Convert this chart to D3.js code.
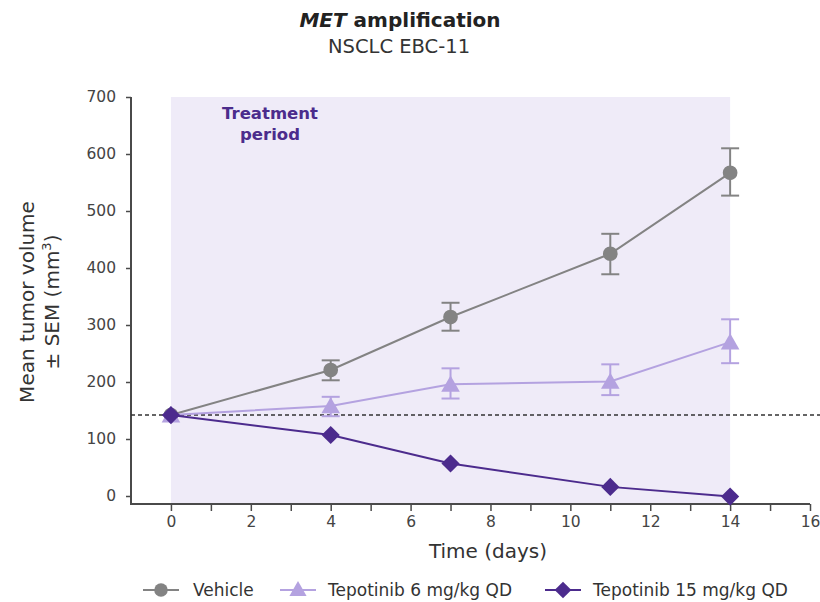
<!DOCTYPE html>
<html lang="en">
<head>
<meta charset="UTF-8">
<script src="https://d3js.org/d3.v7.min.js"></script>
<style>
  body { margin: 0; background: #fff; }
  text { font-family: "DejaVu Sans", Verdana, sans-serif; }
</style>
</head>
<body>
<div id="container"></div>
<script>
// data
var days = [0, 4, 7, 11, 14];
var vehicle = [142, 221, 314, 425, 567];
var vehicleLo = [142, 203, 290, 389, 527];
var vehicleHi = [142, 238, 339, 460, 610];
var tep6 = [142, 158, 196, 201, 270];
var tep6Lo = [142, 140, 171, 177, 233];
var tep6Hi = [142, 174, 224, 231, 310];
var tep15 = [142, 107, 57, 16, -1];
var baseline = 142;
var treatment = [0, 14];
var xTicks = d3.range(0, 17, 1);
var yTicks = [0, 100, 200, 300, 400, 500, 600, 700];
var seriesNames = ["Vehicle", "Tepotinib 6 mg/kg QD", "Tepotinib 15 mg/kg QD"];

var width = 820, height = 602;
var x = d3.scaleLinear().domain([-1, 16]).range([131, 810]);
var y = d3.scaleLinear().domain([0, 700]).range([496, 97]);
var axisColor = "#4a4a4a";

var svg = d3.select("#container").append("svg")
  .attr("width", width).attr("height", height);

// titles
var t = svg.append("text").attr("x", 400).attr("y", 27)
  .attr("text-anchor", "middle").attr("font-size", 20).attr("font-weight", "bold").attr("fill", "#222");
t.append("tspan").attr("font-style", "italic").text("MET");
t.append("tspan").text(" amplification");
svg.append("text").attr("x", 399).attr("y", 53).attr("text-anchor", "middle")
  .attr("font-size", 19.5).attr("fill", "#333").text("NSCLC EBC-11");

// treatment shading
svg.append("rect")
  .attr("x", x(treatment[0])).attr("y", y(700))
  .attr("width", x(treatment[1]) - x(treatment[0]))
  .attr("height", 504 - y(700))
  .attr("fill", "#efebf8");
svg.append("text").attr("x", 270).attr("y", 119).attr("text-anchor", "middle")
  .attr("font-size", 16.5).attr("font-weight", "bold").attr("fill", "#4b2c8c")
  .text("Treatment");
svg.append("text").attr("x", 270).attr("y", 140).attr("text-anchor", "middle")
  .attr("font-size", 16.5).attr("font-weight", "bold").attr("fill", "#4b2c8c")
  .text("period");

// axes
var yAxis = svg.append("g").attr("transform", "translate(131,0)")
  .call(d3.axisLeft(y).tickValues(yTicks).tickSize(5).tickSizeOuter(0));
yAxis.select(".domain").attr("d", "M0,97V505").attr("stroke", axisColor).attr("stroke-width", 2);
yAxis.selectAll(".tick line").attr("stroke", axisColor).attr("stroke-width", 1.5);
yAxis.selectAll(".tick text").attr("font-size", 15.5).attr("fill", "#444").attr("x", -15)
  .attr("font-family", "'DejaVu Sans', sans-serif");

var xAxis = svg.append("g").attr("transform", "translate(0,504)")
  .call(d3.axisBottom(x).tickValues(xTicks).tickSize(7).tickSizeOuter(0)
    .tickFormat(d => d % 2 === 0 ? d : ""));
xAxis.select(".domain").attr("d", "M131,0H810").attr("stroke", axisColor).attr("stroke-width", 2);
xAxis.selectAll(".tick line").attr("stroke", axisColor).attr("stroke-width", 1.5);
xAxis.selectAll(".tick text").attr("font-size", 15.5).attr("fill", "#444").attr("y", 12)
  .attr("font-family", "'DejaVu Sans', sans-serif");

// axis titles
svg.append("text").attr("x", 488).attr("y", 558).attr("text-anchor", "middle")
  .attr("font-size", 20).attr("fill", "#333").text("Time (days)");
var yl = svg.append("g").attr("transform", "translate(0,302) rotate(-90)");
yl.append("text").attr("x", 0).attr("y", 34).attr("text-anchor", "middle")
  .attr("font-size", 20).attr("fill", "#333").text("Mean tumor volume");
var yl2 = yl.append("text").attr("x", 0).attr("y", 59).attr("text-anchor", "middle")
  .attr("font-size", 20).attr("fill", "#333");
yl2.append("tspan").text("± SEM (mm");
yl2.append("tspan").attr("font-size", 13).attr("dy", -8).text("3");
yl2.append("tspan").attr("dy", 8).text(")");

// baseline dashed
svg.append("line").attr("x1", 131).attr("x2", 820)
  .attr("y1", y(baseline)).attr("y2", y(baseline))
  .attr("stroke", "#333").attr("stroke-width", 1.5).attr("stroke-dasharray", "4,3");

var series = [
  { name: seriesNames[0], v: vehicle, lo: vehicleLo, hi: vehicleHi, color: "#838383", sym: d3.symbolCircle, size: 170, rot: 0 },
  { name: seriesNames[1], v: tep6, lo: tep6Lo, hi: tep6Hi, color: "#b4a2e0", sym: d3.symbolTriangle, size: 150, rot: 0 },
  { name: seriesNames[2], v: tep15, lo: null, hi: null, color: "#4c2b8d", sym: d3.symbolSquare, size: 165, rot: 45 }
];

var line = d3.line().x(d => x(d[0])).y(d => y(d[1]));

series.forEach(function(s) {
  var pts = days.map((d, i) => [d, s.v[i]]);
  var g = svg.append("g");
  g.append("path").datum(pts).attr("d", line)
    .attr("fill", "none").attr("stroke", s.color).attr("stroke-width", 2);
  if (s.lo) {
    days.forEach(function(d, i) {
      if (i === 0) return;
      var eb = g.append("g").attr("stroke", s.color).attr("stroke-width", 2);
      eb.append("line").attr("x1", x(d)).attr("x2", x(d)).attr("y1", y(s.lo[i])).attr("y2", y(s.hi[i]));
      eb.append("line").attr("x1", x(d) - 9).attr("x2", x(d) + 9).attr("y1", y(s.lo[i])).attr("y2", y(s.lo[i]));
      eb.append("line").attr("x1", x(d) - 9).attr("x2", x(d) + 9).attr("y1", y(s.hi[i])).attr("y2", y(s.hi[i]));
    });
  }
  g.selectAll("path.m").data(pts).join("path").attr("class", "m")
    .attr("transform", d => `translate(${x(d[0])},${y(d[1]) + (s.sym === d3.symbolTriangle ? 2 : 0)}) rotate(${s.rot})`)
    .attr("d", d3.symbol().type(s.sym).size(s.size))
    .attr("fill", s.color);
});

// legend
var legX = [143, 280, 545];
var legTextX = [193, 328, 593];
series.forEach(function(s, i) {
  var lg = svg.append("g");
  lg.append("line").attr("x1", legX[i]).attr("x2", legX[i] + 36).attr("y1", 590).attr("y2", 590)
    .attr("stroke", s.color).attr("stroke-width", 2);
  lg.append("path").attr("transform", `translate(${legX[i] + 18},${590 + (s.sym === d3.symbolTriangle ? 1 : 0)}) rotate(${s.rot})`)
    .attr("d", d3.symbol().type(s.sym).size(s.size * 0.85)).attr("fill", s.color);
  lg.append("text").attr("x", legTextX[i]).attr("y", 596).attr("font-size", 17).attr("fill", "#333").text(s.name);
});
</script>
</body>
</html>
